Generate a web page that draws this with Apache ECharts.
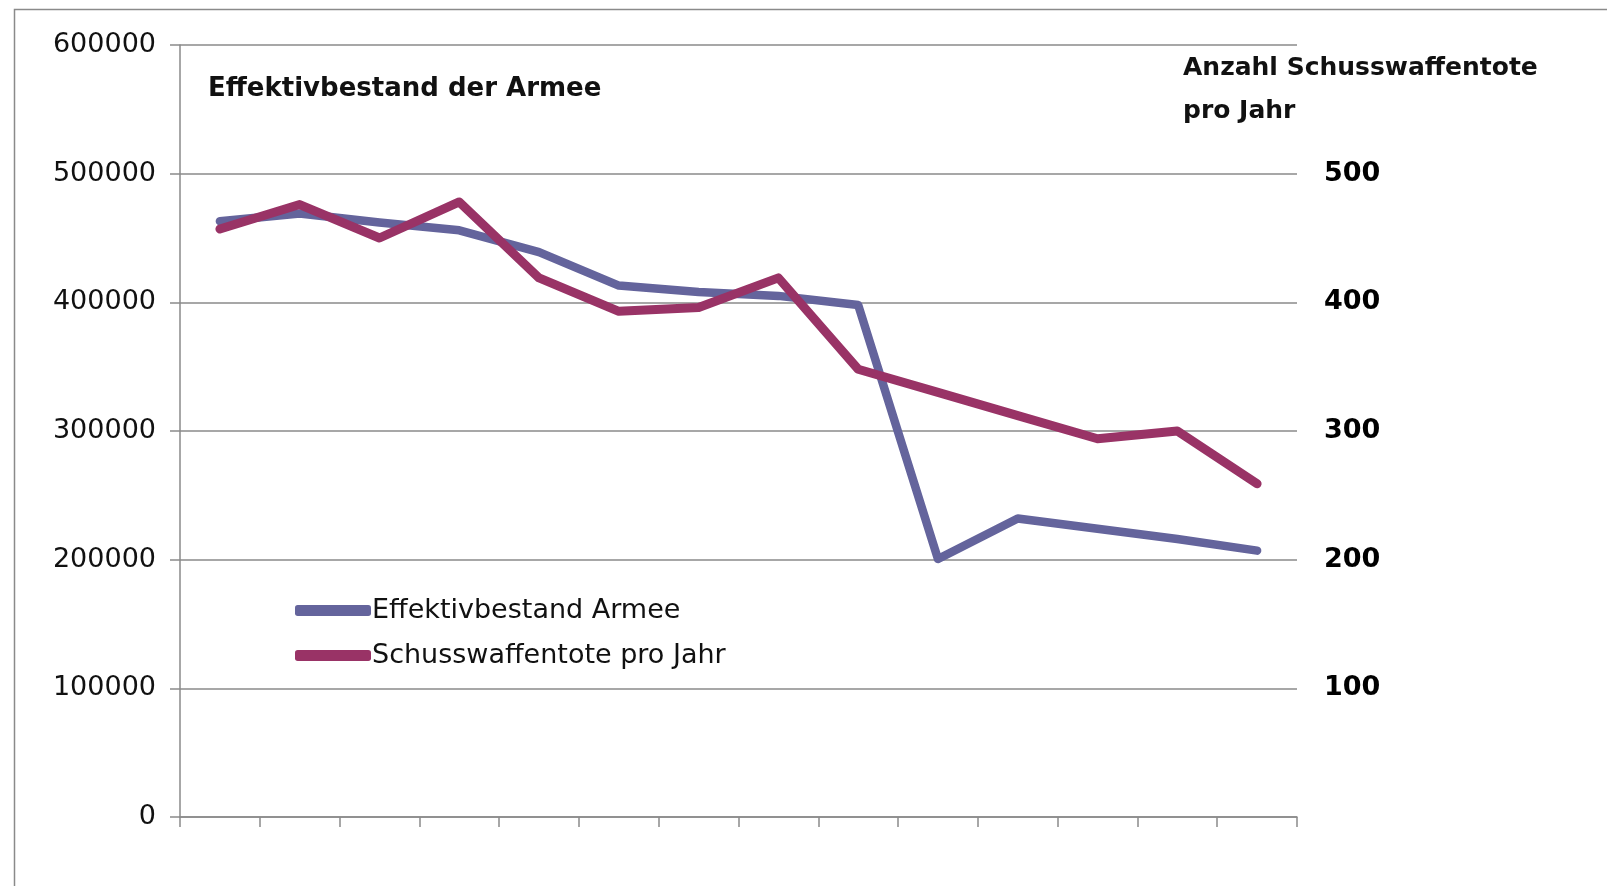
<!DOCTYPE html>
<html>
<head>
<meta charset="utf-8">
<script src="https://cdn.jsdelivr.net/npm/echarts@6/dist/echarts.min.js"></script>
<style>
  html, body { margin: 0; padding: 0; background: #fff; }
  #chart { width: 1607px; height: 886px; }
</style>
</head>
<body>
<div id="chart"></div>
<script>
// Categories (years, axis labels are hidden in the original)
const categories = ['1995','1996','1997','1998','1999','2000','2001','2002','2003','2004','2005','2006','2007','2008'];
// Effektivbestand Armee (left axis)
const armee = [463000, 469000, 462000, 456000, 439000, 413000, 408000, 405000, 398000, 200500, 232000, 224000, 216000, 207000];
// Schusswaffentote pro Jahr (right axis)
const tote = [457, 476, 450, 478, 419, 393, 396, 419, 348, 330, 312, 294, 300, 259];

const seriesNames = ['Effektivbestand Armee', 'Schusswaffentote pro Jahr'];
const leftTitle = 'Effektivbestand der Armee';
const rightTitle = 'Anzahl Schusswaffentote\npro Jahr';
const rightShownTicks = [100, 200, 300, 400, 500];

const gray = '#8a8a8a';
const FONT = 'DejaVu Sans';

const chart = echarts.init(document.getElementById('chart'), null, { renderer: 'canvas' });
chart.setOption({
  animation: false,
  backgroundColor: '#ffffff',
  grid: { left: 180, right: 310, top: 45, bottom: 69, containLabel: false },
  legend: {
    orient: 'vertical',
    left: 290,
    top: 590,
    itemWidth: 76,
    itemHeight: 11,
    itemGap: 14,
    icon: 'roundRect',
    textStyle: { fontFamily: FONT, fontSize: 27, color: '#111', lineHeight: 31, padding: [0, 0, 0, -4] },
    data: seriesNames
  },
  xAxis: {
    type: 'category',
    data: categories,
    boundaryGap: true,
    axisLine: { show: true, lineStyle: { color: gray, width: 1.5 } },
    axisTick: { show: true, length: 10, interval: 0, lineStyle: { color: gray, width: 1.5 } },
    axisLabel: { show: false },
    splitLine: { show: false }
  },
  yAxis: [
    {
      type: 'value',
      min: 0, max: 600000, interval: 100000,
      position: 'left',
      axisLine: { show: true, lineStyle: { color: gray, width: 1.5 } },
      axisTick: { show: true, length: 10, lineStyle: { color: gray, width: 1.5 } },
      axisLabel: { margin: 24, fontFamily: FONT, fontSize: 27, color: '#111', formatter: v => String(v) },
      splitLine: { show: true, lineStyle: { color: gray, width: 1.5 } }
    },
    {
      type: 'value',
      min: 0, max: 600, interval: 100,
      position: 'right',
      axisLine: { show: false },
      axisTick: { show: false },
      splitLine: { show: false },
      axisLabel: {
        margin: 27,
        fontFamily: FONT, fontSize: 27, fontWeight: 'bold', color: '#000',
        formatter: v => rightShownTicks.includes(v) ? String(v) : ''
      }
    }
  ],
  series: [
    {
      name: seriesNames[0],
      type: 'line',
      yAxisIndex: 0,
      data: armee,
      symbol: 'none',
      color: '#64649c',
      lineStyle: { width: 8.5, color: '#64649c', join: 'round', cap: 'round' },
      z: 2
    },
    {
      name: seriesNames[1],
      type: 'line',
      yAxisIndex: 1,
      data: tote,
      symbol: 'none',
      color: '#993366',
      lineStyle: { width: 9, color: '#993366', join: 'round', cap: 'round' },
      z: 3
    }
  ],
  graphic: [
    {
      type: 'rect',
      left: 12, top: 7,
      shape: { width: 1640, height: 920 },
      style: { fill: 'none', stroke: '#8a8a8a', lineWidth: 1.5 },
      silent: true
    },
    {
      type: 'text',
      left: 208, top: 76,
      style: { text: leftTitle, fontFamily: FONT, fontSize: 26, fontWeight: 'bold', fill: '#111' }
    },
    {
      type: 'text',
      left: 1183, top: 47,
      style: { text: rightTitle, fontFamily: FONT, fontSize: 25, fontWeight: 'bold', fill: '#111', lineHeight: 43 }
    }
  ]
});
</script>
</body>
</html>
